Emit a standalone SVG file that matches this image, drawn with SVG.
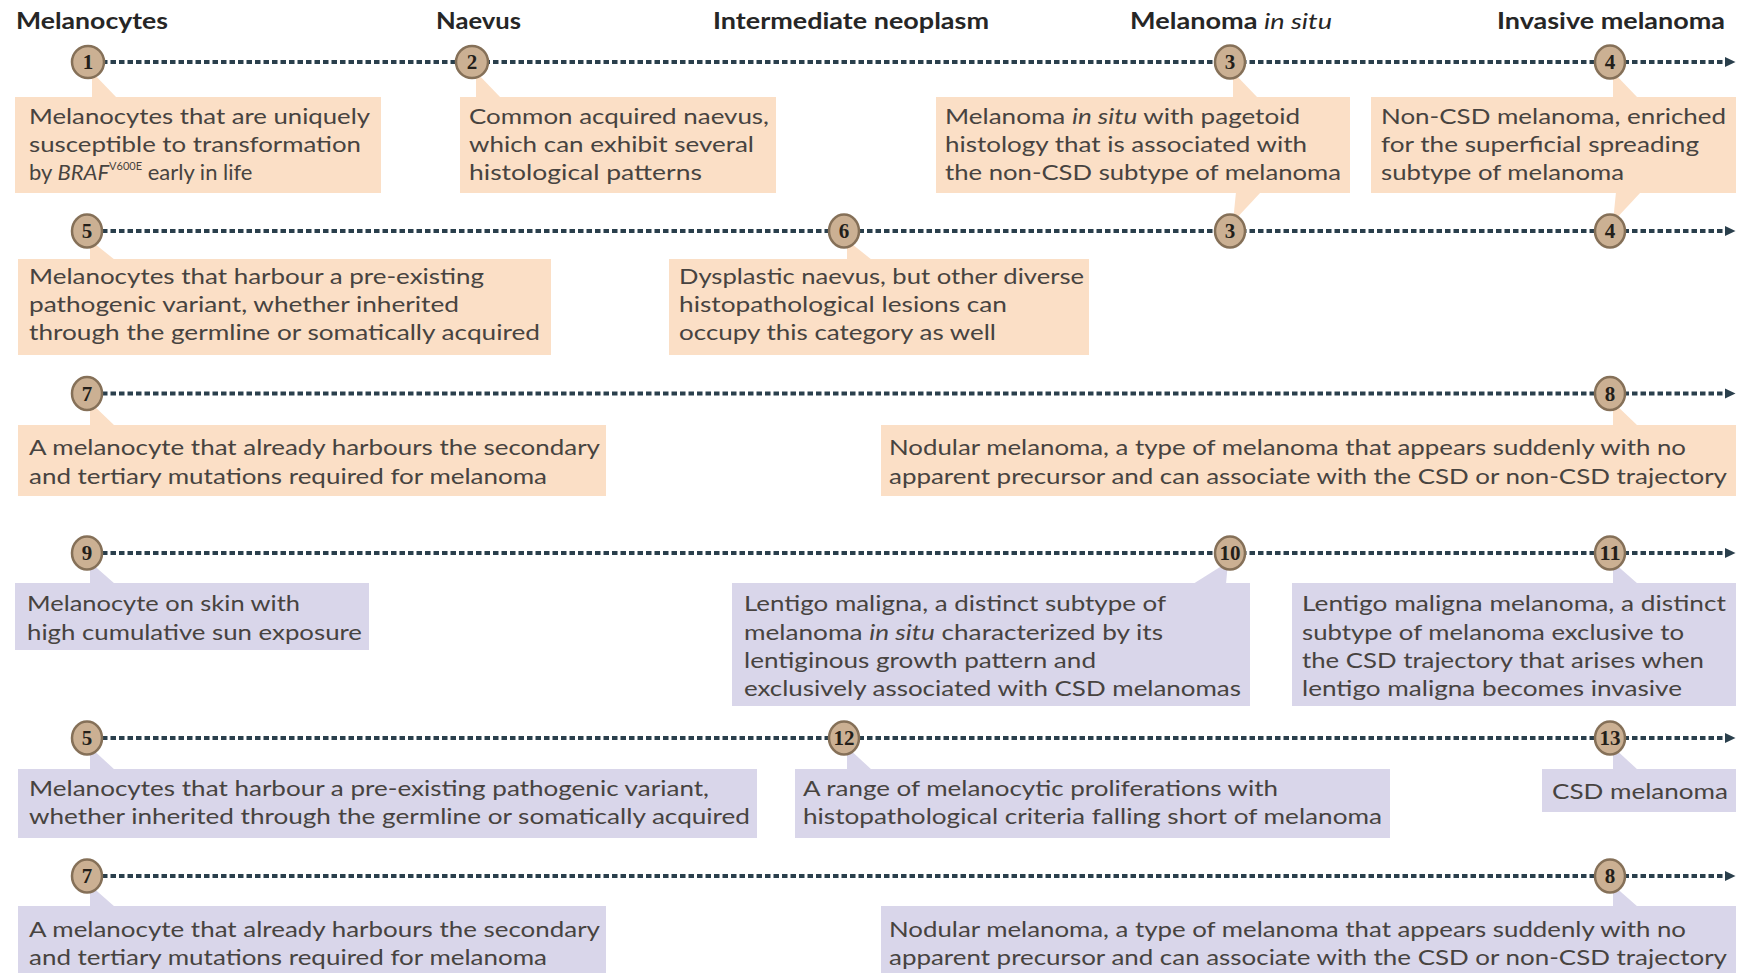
<svg xmlns="http://www.w3.org/2000/svg" width="1748" height="973" viewBox="0 0 1748 973">
<defs>
<marker id="arr" markerUnits="userSpaceOnUse" markerWidth="12" markerHeight="12" refX="2" refY="6" orient="auto">
<path d="M0,1 L10.5,6 L0,11 z" fill="#2a3f4c"/>
</marker>
<style>
.hd{font-family:Lato,"Liberation Sans",sans-serif;font-weight:700;font-size:22px;fill:#262626}
.tx{font-family:Lato,"Liberation Sans",sans-serif;font-size:22px;fill:#474340}
.pe{fill:#fbdfc6}
.lv{fill:#d9d6ea}
.ln{stroke:#2a3f4c;stroke-width:4;stroke-dasharray:5.5 3;fill:none}
.ci{fill:#cbb093;stroke:#857058;stroke-width:2.5}
.nu{font-family:"Liberation Serif",serif;font-weight:700;font-size:21px;fill:#241f1a;text-anchor:middle}
</style>
</defs>
<rect width="1748" height="973" fill="#ffffff"/>

<g id="headers">
<text class="hd" x="16" y="29" textLength="152" lengthAdjust="spacingAndGlyphs">Melanocytes</text>
<text class="hd" x="436" y="29" textLength="85" lengthAdjust="spacingAndGlyphs">Naevus</text>
<text class="hd" x="713" y="29" textLength="276" lengthAdjust="spacingAndGlyphs">Intermediate neoplasm</text>
<text class="hd" x="1130" y="29" textLength="202" lengthAdjust="spacingAndGlyphs">Melanoma <tspan font-style="italic" font-weight="400">in situ</tspan></text>
<text class="hd" x="1497" y="29" textLength="228" lengthAdjust="spacingAndGlyphs">Invasive melanoma</text>
</g>

<g id="connectors">
<line class="ln" x1="102" y1="62" x2="1727" y2="62" marker-end="url(#arr)"/>
<line class="ln" x1="102" y1="231" x2="1727" y2="231" marker-end="url(#arr)"/>
<line class="ln" x1="102" y1="393.5" x2="1727" y2="393.5" marker-end="url(#arr)"/>
<line class="ln" x1="102" y1="553" x2="1727" y2="553" marker-end="url(#arr)"/>
<line class="ln" x1="102" y1="738" x2="1727" y2="738" marker-end="url(#arr)"/>
<line class="ln" x1="102" y1="876" x2="1727" y2="876" marker-end="url(#arr)"/>
</g>

<g id="box1">
<polygon class="pe" points="92,72 92,98 117,98"/>
<rect class="pe" x="15" y="97" width="366" height="96"/>
<text class="tx" x="29" y="124" textLength="341" lengthAdjust="spacingAndGlyphs">Melanocytes that are uniquely</text>
<text class="tx" x="29" y="152" textLength="332" lengthAdjust="spacingAndGlyphs">susceptible to transformation</text>
<text class="tx" x="29" y="180">by <tspan font-style="italic">BRAF</tspan><tspan font-size="11" dy="-10">V600E</tspan><tspan dy="10"> early in life</tspan></text>
</g>
<g id="box2">
<polygon class="pe" points="476,72 476,98 501,98"/>
<rect class="pe" x="460" y="97" width="316" height="96"/>
<text class="tx" x="469" y="124" textLength="300" lengthAdjust="spacingAndGlyphs">Common acquired naevus,</text>
<text class="tx" x="469" y="152" textLength="285" lengthAdjust="spacingAndGlyphs">which can exhibit several</text>
<text class="tx" x="469" y="180" textLength="233" lengthAdjust="spacingAndGlyphs">histological patterns</text>
</g>
<g id="box3">
<polygon class="pe" points="1233,72 1233,98 1258,98"/>
<polygon class="pe" points="1236,192 1261,192 1233,222"/>
<rect class="pe" x="936" y="97" width="414" height="96"/>
<text class="tx" x="945" y="124" textLength="355" lengthAdjust="spacingAndGlyphs">Melanoma <tspan font-style="italic">in situ</tspan> with pagetoid</text>
<text class="tx" x="945" y="152" textLength="362" lengthAdjust="spacingAndGlyphs">histology that is associated with</text>
<text class="tx" x="945" y="180" textLength="396" lengthAdjust="spacingAndGlyphs">the non-CSD subtype of melanoma</text>
</g>
<g id="box4">
<polygon class="pe" points="1613,72 1613,98 1638,98"/>
<polygon class="pe" points="1616,192 1641,192 1613,222"/>
<rect class="pe" x="1371" y="97" width="365" height="96"/>
<text class="tx" x="1381" y="124" textLength="345" lengthAdjust="spacingAndGlyphs">Non-CSD melanoma, enriched</text>
<text class="tx" x="1381" y="152" textLength="318" lengthAdjust="spacingAndGlyphs">for the superficial spreading</text>
<text class="tx" x="1381" y="180" textLength="243" lengthAdjust="spacingAndGlyphs">subtype of melanoma</text>
</g>
<g id="box5">
<polygon class="pe" points="90,240 90,260 115,260"/>
<rect class="pe" x="18" y="259" width="533" height="96"/>
<text class="tx" x="29" y="284" textLength="455" lengthAdjust="spacingAndGlyphs">Melanocytes that harbour a pre-existing</text>
<text class="tx" x="29" y="312" textLength="430" lengthAdjust="spacingAndGlyphs">pathogenic variant, whether inherited</text>
<text class="tx" x="29" y="340" textLength="511" lengthAdjust="spacingAndGlyphs">through the germline or somatically acquired</text>
</g>
<g id="box6">
<polygon class="pe" points="847,240 847,260 872,260"/>
<rect class="pe" x="669" y="259" width="420" height="96"/>
<text class="tx" x="679" y="284" textLength="405" lengthAdjust="spacingAndGlyphs">Dysplastic naevus, but other diverse</text>
<text class="tx" x="679" y="312" textLength="328" lengthAdjust="spacingAndGlyphs">histopathological lesions can</text>
<text class="tx" x="679" y="340" textLength="317" lengthAdjust="spacingAndGlyphs">occupy this category as well</text>
</g>
<g id="box7">
<polygon class="pe" points="90,402 90,426 115,426"/>
<rect class="pe" x="18" y="425" width="588" height="71"/>
<text class="tx" x="29" y="455" textLength="571" lengthAdjust="spacingAndGlyphs">A melanocyte that already harbours the secondary</text>
<text class="tx" x="29" y="484" textLength="518" lengthAdjust="spacingAndGlyphs">and tertiary mutations required for melanoma</text>
</g>
<g id="box8">
<polygon class="pe" points="1613,402 1613,426 1638,426"/>
<rect class="pe" x="881" y="425" width="855" height="71"/>
<text class="tx" x="889" y="455" textLength="797" lengthAdjust="spacingAndGlyphs">Nodular melanoma, a type of melanoma that appears suddenly with no</text>
<text class="tx" x="889" y="484" textLength="838" lengthAdjust="spacingAndGlyphs">apparent precursor and can associate with the CSD or non-CSD trajectory</text>
</g>
<g id="box9">
<polygon class="lv" points="90,562 90,584 115,584"/>
<rect class="lv" x="15" y="583" width="354" height="67"/>
<text class="tx" x="27" y="611" textLength="273" lengthAdjust="spacingAndGlyphs">Melanocyte on skin with</text>
<text class="tx" x="27" y="640" textLength="335" lengthAdjust="spacingAndGlyphs">high cumulative sun exposure</text>
</g>
<g id="box10">
<polygon class="lv" points="1228,562 1193,584 1226,584"/>
<rect class="lv" x="732" y="583" width="518" height="123"/>
<text class="tx" x="744" y="611" textLength="422" lengthAdjust="spacingAndGlyphs">Lentigo maligna, a distinct subtype of</text>
<text class="tx" x="744" y="640" textLength="419" lengthAdjust="spacingAndGlyphs">melanoma <tspan font-style="italic">in situ</tspan> characterized by its</text>
<text class="tx" x="744" y="668" textLength="352" lengthAdjust="spacingAndGlyphs">lentiginous growth pattern and</text>
<text class="tx" x="744" y="696" textLength="497" lengthAdjust="spacingAndGlyphs">exclusively associated with CSD melanomas</text>
</g>
<g id="box11">
<polygon class="lv" points="1613,562 1613,584 1638,584"/>
<rect class="lv" x="1292" y="583" width="444" height="123"/>
<text class="tx" x="1302" y="611" textLength="424" lengthAdjust="spacingAndGlyphs">Lentigo maligna melanoma, a distinct</text>
<text class="tx" x="1302" y="640" textLength="382" lengthAdjust="spacingAndGlyphs">subtype of melanoma exclusive to</text>
<text class="tx" x="1302" y="668" textLength="402" lengthAdjust="spacingAndGlyphs">the CSD trajectory that arises when</text>
<text class="tx" x="1302" y="696" textLength="380" lengthAdjust="spacingAndGlyphs">lentigo maligna becomes invasive</text>
</g>
<g id="box5b">
<polygon class="lv" points="90,747 90,770 115,770"/>
<rect class="lv" x="18" y="769" width="739" height="69"/>
<text class="tx" x="29" y="796" textLength="680" lengthAdjust="spacingAndGlyphs">Melanocytes that harbour a pre-existing pathogenic variant,</text>
<text class="tx" x="29" y="824" textLength="721" lengthAdjust="spacingAndGlyphs">whether inherited through the germline or somatically acquired</text>
</g>
<g id="box12">
<polygon class="lv" points="847,747 847,770 872,770"/>
<rect class="lv" x="795" y="769" width="595" height="69"/>
<text class="tx" x="803" y="796" textLength="475" lengthAdjust="spacingAndGlyphs">A range of melanocytic proliferations with</text>
<text class="tx" x="803" y="824" textLength="579" lengthAdjust="spacingAndGlyphs">histopathological criteria falling short of melanoma</text>
</g>
<g id="box13">
<polygon class="lv" points="1613,747 1613,770 1638,770"/>
<rect class="lv" x="1542" y="769" width="194" height="43"/>
<text class="tx" x="1552" y="799" textLength="176" lengthAdjust="spacingAndGlyphs">CSD melanoma</text>
</g>
<g id="box7b">
<polygon class="lv" points="90,885 90,907 115,907"/>
<rect class="lv" x="18" y="906" width="588" height="67"/>
<text class="tx" x="29" y="937" textLength="571" lengthAdjust="spacingAndGlyphs">A melanocyte that already harbours the secondary</text>
<text class="tx" x="29" y="965" textLength="518" lengthAdjust="spacingAndGlyphs">and tertiary mutations required for melanoma</text>
</g>
<g id="box8b">
<polygon class="lv" points="1613,885 1613,907 1638,907"/>
<rect class="lv" x="881" y="906" width="855" height="67"/>
<text class="tx" x="889" y="937" textLength="797" lengthAdjust="spacingAndGlyphs">Nodular melanoma, a type of melanoma that appears suddenly with no</text>
<text class="tx" x="889" y="965" textLength="838" lengthAdjust="spacingAndGlyphs">apparent precursor and can associate with the CSD or non-CSD trajectory</text>
</g>

<g id="m1"><ellipse class="ci" cx="88" cy="62" rx="16" ry="16"/><text class="nu" x="88" y="69">1</text></g>
<g id="m2"><ellipse class="ci" cx="472" cy="62" rx="16" ry="16"/><text class="nu" x="472" y="69">2</text></g>
<g id="m3a"><ellipse class="ci" cx="1230" cy="62" rx="15" ry="16.5"/><text class="nu" x="1230" y="69">3</text></g>
<g id="m4a"><ellipse class="ci" cx="1610" cy="62" rx="15" ry="16.5"/><text class="nu" x="1610" y="69">4</text></g>
<g id="m5a"><ellipse class="ci" cx="87" cy="231" rx="15" ry="16.5"/><text class="nu" x="87" y="238">5</text></g>
<g id="m6"><ellipse class="ci" cx="844" cy="231" rx="15" ry="16.5"/><text class="nu" x="844" y="238">6</text></g>
<g id="m3b"><ellipse class="ci" cx="1230" cy="231" rx="15" ry="16.5"/><text class="nu" x="1230" y="238">3</text></g>
<g id="m4b"><ellipse class="ci" cx="1610" cy="231" rx="15" ry="16.5"/><text class="nu" x="1610" y="238">4</text></g>
<g id="m7a"><ellipse class="ci" cx="87" cy="393.5" rx="15" ry="16.5"/><text class="nu" x="87" y="400.5">7</text></g>
<g id="m8a"><ellipse class="ci" cx="1610" cy="393.5" rx="15" ry="16.5"/><text class="nu" x="1610" y="400.5">8</text></g>
<g id="m9"><ellipse class="ci" cx="87" cy="553" rx="15" ry="16.5"/><text class="nu" x="87" y="560">9</text></g>
<g id="m10"><ellipse class="ci" cx="1230" cy="553" rx="15" ry="16.5"/><text class="nu" x="1230" y="560" textLength="21" lengthAdjust="spacingAndGlyphs">10</text></g>
<g id="m11"><ellipse class="ci" cx="1610" cy="553" rx="15" ry="16.5"/><text class="nu" x="1610" y="560" textLength="21" lengthAdjust="spacingAndGlyphs">11</text></g>
<g id="m5b"><ellipse class="ci" cx="87" cy="738" rx="15" ry="16.5"/><text class="nu" x="87" y="745">5</text></g>
<g id="m12"><ellipse class="ci" cx="844" cy="738" rx="15" ry="16.5"/><text class="nu" x="844" y="745" textLength="21" lengthAdjust="spacingAndGlyphs">12</text></g>
<g id="m13"><ellipse class="ci" cx="1610" cy="738" rx="15" ry="16.5"/><text class="nu" x="1610" y="745" textLength="21" lengthAdjust="spacingAndGlyphs">13</text></g>
<g id="m7b"><ellipse class="ci" cx="87" cy="876" rx="15" ry="16.5"/><text class="nu" x="87" y="883">7</text></g>
<g id="m8b"><ellipse class="ci" cx="1610" cy="876" rx="15" ry="16.5"/><text class="nu" x="1610" y="883">8</text></g>
</svg>
